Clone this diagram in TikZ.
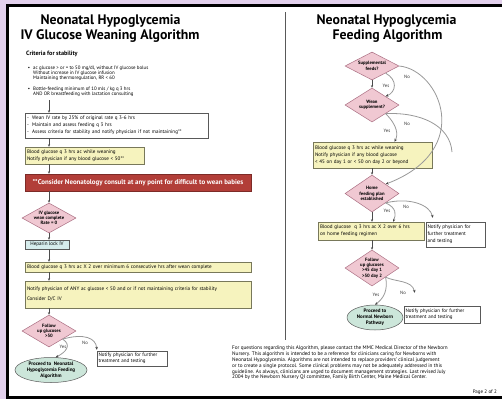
\documentclass[tikz,border=0pt]{standalone}
\usepackage{fontspec}
\setmainfont{PT Sans}
\usetikzlibrary{shapes.geometric,arrows.meta,calc}
\definecolor{lav}{RGB}{226,208,236}
\definecolor{pinkfill}{RGB}{240,200,210}
\definecolor{pinkline}{RGB}{170,110,130}
\definecolor{yel}{RGB}{246,243,190}
\definecolor{yelline}{RGB}{120,120,90}
\definecolor{hep}{RGB}{214,236,236}
\definecolor{ell}{RGB}{204,230,218}
\definecolor{redbox}{RGB}{178,62,56}
\newcommand{\fsz}[2]{\fontsize{#1}{#2}\selectfont}
\begin{document}
\begin{tikzpicture}[x=1pt,y=-1pt,
  title/.style={font=\fsz{13.8}{15}\bfseries, inner sep=0},
  box/.style={draw=black!65, line width=0.4pt, fill=white, inner sep=1.5pt, align=left, font=\fsz{5.1}{7}},
  ybox/.style={box, fill=yel, draw=yelline},
  dia/.style={shape=diamond, draw=pinkline, fill=pinkfill, line width=0.5pt, inner sep=0},
  dtext/.style={align=center, font=\fsz{4.7}{5.3}\bfseries, inner sep=0},
  ellnode/.style={shape=ellipse, draw=black!65, fill=ell, line width=0.5pt, inner sep=0},
  arr/.style={draw=black!70, line width=0.5pt, -{Stealth[length=2.6pt,width=2.2pt]}},
  curv/.style={draw=black!40, line width=0.8pt, -{Stealth[length=3pt,width=2.6pt,color=black!75]}},
  mergeline/.style={draw=black!40, line width=0.8pt},
  lbl/.style={font=\fsz{4.7}{5}, inner sep=0, text=black!80}
]
\useasboundingbox (0,0) rectangle (502,399);
\fill[lav] (0,0) rectangle (502,399);
\fill[black] (6,4) rectangle (502,399);
\fill[white] (9,7) rectangle (502,396);

% ---------- left column ----------
\node[title] (tl1) at (110.5,21) {Neonatal Hypoglycemia};
\node[title] (tl2) at (110,36) {IV Glucose Weaning Algorithm};
\node[font=\fsz{6.2}{7}\bfseries, inner sep=0, anchor=west] (crit) at (26,54) {Criteria for stability};
\node[font=\fsz{4.9}{5}, inner sep=0] (b1) at (29,68) {•};
\node[font=\fsz{4.9}{5}, inner sep=0, align=left, anchor=north west] (c1) at (33,65.5)
  {ac glucose > or = to 50 mg/dl, without IV glucose bolus\\Without increase in IV glucose infusion\\Maintaining thermoregulation, RR < 60};
\node[font=\fsz{4.9}{5}, inner sep=0] (b2) at (29,89.3) {•};
\node[font=\fsz{4.9}{5}, inner sep=0, align=left, anchor=north west] (c2) at (33,87)
  {Bottle-feeding minimum of 10 mls / kg q 3 hrs\\AND OR breastfeeding with lactation consulting};
\coordinate (c0) at (49,100);

\node[box, minimum width=183pt, minimum height=25pt, text width=179pt] (weanL) at (116.5,125.5)
  {-\ \ Wean IV rate by 25\% of original rate q 3-6 hrs\\-\ \ Maintain and assess feeding q 3 hrs\\-\ \ Assess criteria for stability and notify physician if not maintaining**};
\node[ybox, minimum width=119pt, minimum height=17pt, text width=115pt] (yl1) at (84.5,155.5)
  {Blood glucose q 3 hrs ac while weaning\\Notify physician if any blood glucose < 50**};
\node[draw=redbox!70!black, fill=redbox, line width=0.4pt, minimum width=226pt, minimum height=17pt, inner sep=0,
  text=white, font=\fsz{6.9}{7}\bfseries] (red) at (138,182.5)
  {**Consider Neonatology consult at any point for difficult to wean babies};
\node[dia, minimum width=54pt, minimum height=30pt] (dL1) at (49,218) {};
\node[dtext] (tL1) at (dL1.center) {IV glucose\\wean complete\\Rate = 0};
\node[box, fill=hep, minimum width=44pt, minimum height=9pt, inner sep=0, align=center] (hp) at (47,244.5) {Heparin lock IV};
\node[ybox, minimum width=226pt, minimum height=10pt, text width=222pt] (yl2) at (138,267)
  {Blood glucose q 3 hrs ac X 2 over minimum 6 consecutive hrs after wean complete};
\node[ybox, minimum width=226pt, minimum height=27pt, text width=222pt, font=\fsz{5.1}{10}] (yl3) at (138,294.5)
  {Notify physician of ANY ac glucose < 50 and or if not maintaining criteria for stability\\Consider D/C IV};
\node[dia, minimum width=54pt, minimum height=32pt] (dL2) at (49,331) {};
\node[dtext] (tL2) at (dL2.center) {Follow\\up glucoses\\>50};
\node[ellnode, minimum width=72pt, minimum height=25pt] (eL) at (51,370) {};
\node[dtext, font=\fsz{5}{6.2}\bfseries] (teL) at (eL.center) {Proceed to\ \ Neonatal\\Hypoglycemia Feeding\\Algorithm};
\node[box, minimum width=70pt, minimum height=15pt, text width=67pt, inner sep=1.5pt, font=\fsz{5}{6}] (nL) at (132,358.5)
  {Notify physician for further\\treatment and testing};

\draw[arr] (c0) -- (c0 |- weanL.north);
\draw[arr] (weanL.south -| c0) -- (yl1.north -| c0);
\draw[arr] (yl1.south -| c0) -- (red.north -| c0);
\draw[arr] (red.south -| c0) -- (dL1.north);
\draw[arr] (dL1.south) -- (hp.north -| dL1.south);
\draw[arr] (hp.south -| c0) -- (yl2.north -| c0);
\draw[arr] (yl2.south -| c0) -- (yl3.north -| c0);
\draw[arr] (yl3.south -| c0) -- (dL2.north);
\draw[curv] (dL2.south east) .. controls (72,345) and (66,352) .. (eL.70);
\draw[curv] (dL2.south east) .. controls (84,333) and (96,338) .. ($(nL.north west)+(0,-1)$);
\node[lbl] (yesL) at (63,347) {Yes};
\node[lbl] (noL) at (85,343) {No};

% separator
\draw[black!65, line width=0.6pt] (285,12) -- (285,340);

% ---------- right column ----------
\node[title] (tr1) at (386.5,21) {Neonatal Hypoglycemia};
\node[title] (tr2) at (387.5,36) {Feeding Algorithm};
\node[dia, minimum width=54pt, minimum height=28pt] (dS) at (372,66) {};
\node[dtext] (tS) at (dS.center) {Supplemental\\feeds?};
\node[dia, minimum width=54pt, minimum height=34pt] (dW) at (372,105) {};
\node[dtext] (tW) at (dW.center) {Wean\\supplement?};
\node[ybox, minimum width=119pt, minimum height=26pt, text width=115pt] (yr1) at (372.5,155)
  {Blood glucose q 3 hrs ac while weaning\\Notify physician if any blood glucose\\< 45 on day 1 or < 50 on day 2 or beyond};
\node[dia, minimum width=54pt, minimum height=37pt] (dH) at (372,193.5) {};
\node[dtext] (tH) at (dH.center) {Home\\feeding plan\\established};
\node[ybox, minimum width=106pt, minimum height=18pt, text width=102pt] (yr2) at (371,231)
  {Blood glucose\ \ q 3 hrs ac X 2 over 6 hrs\\on home feeding regimen};
\node[box, minimum width=59pt, minimum height=25pt, text width=56pt] (nR1) at (455.5,234.5)
  {Notify physician for\\further treatment\\and testing};
\node[dia, minimum width=54pt, minimum height=36pt] (dF) at (372,268) {};
\node[dtext] (tF) at (dF.center) {Follow\\up glucoses\\>45 day 1\\>50 day 2};
\node[ellnode, minimum width=56pt, minimum height=25pt] (eR) at (375,317.5) {};
\node[dtext, font=\fsz{5}{6.2}\bfseries] (teR) at (eR.center) {Proceed to\\Normal Newborn\\Pathway};
\node[box, minimum width=76pt, minimum height=17pt, text width=73pt, font=\fsz{5}{6}] (nR2) at (442,314.5)
  {Notify physician for further\\treatment and testing};

\draw[arr] (dS.south) -- (dW.north);
\draw[arr] (yr1.south -| dH.north) -- (dH.north);
\draw[arr] (yr2.south -| dF.north) -- (dF.north);
\draw[arr] (dH.south) -- (yr2.north -| dH.south);
% curves
\coordinate (mrg) at (452,152);
\draw[curv] (dS.south east) .. controls (398,80) and (396,92) .. (dW.north east);
\draw[curv] (dS.east) .. controls (440,70) and (475,150) .. (dH.north east);
\draw[mergeline] (dW.south east) .. controls (420,112) and (450,125) .. (mrg);
\draw[curv] (dW.south east) .. controls (398,126) and (398,135) .. ($(yr1.north)+(22,0)$);
\draw[curv] (dH.south east) .. controls (397,208) and (396,215) .. ($(yr2.north)+(22,0)$);
\draw[curv] (dH.south east) .. controls (410,197) and (430,205) .. ($(nR1.north west)+(7,-4)$);
\draw[curv] (dF.south east) .. controls (388,290) and (384,298) .. (eR.north);
\draw[curv] (dF.south east) .. controls (395,282) and (412,280) .. ($(nR2.north west)+(11,-13)$);
\node[lbl] (yS) at (386,86) {Yes};
\node[lbl] (nS) at (407,77) {No};
\node[lbl] (yW) at (387,131) {Yes};
\node[lbl] (nW) at (407,124) {No};
\node[lbl] (yH) at (387,211) {Yes};
\node[lbl] (nH) at (406,207) {No};
\node[lbl] (yF) at (376,295) {Yes};
\node[lbl] (nF) at (403,293) {No};

\node[font=\fsz{5.2}{5.9}, inner sep=0, align=left, anchor=north west] (foot) at (232,345.5)
  {For questions regarding this Algorithm, please contact the MMC Medical Director of the Newborn\\
   Nursery. This algorithm is intended to be a reference for clinicians caring for Newborns with\\
   Neonatal Hypoglycemia. Algorithms are not intended to replace providers' clinical judgement\\
   or to create a single protocol. Some clinical problems may not be adequately addressed in this\\
   guideline. As always, clinicians are urged to document management strategies. Last revised July\\
   2004 by the Newborn Nursery QI committee, Family Birth Center, Maine Medical Center.};
\node[font=\fsz{5}{6}, inner sep=0, anchor=east] (page) at (497,392) {Page 2 of 2};
\end{tikzpicture}
\end{document}
